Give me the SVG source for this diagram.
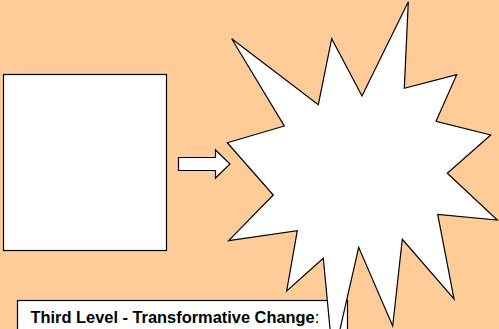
<svg xmlns="http://www.w3.org/2000/svg" width="499" height="329" viewBox="0 0 499 329">
<style>
.shape{fill:#ffffff;stroke:#000000;stroke-width:1.2;stroke-linejoin:miter}
.label{font-family:"Liberation Sans",Arial,sans-serif;font-size:16.4px;font-weight:bold;fill:#000000}
</style>
<rect x="0" y="0" width="499" height="329" fill="#ffcc99"/>
<g id="box-before">
<rect class="shape" x="3.5" y="74.5" width="163" height="176"/>
</g>
<g id="label-box">
<rect class="shape" x="17.5" y="300.5" width="330" height="40"/>
<text class="label" x="30.5" y="322.5">Third Level - Transformative Change<tspan font-weight="normal">:</tspan></text>
</g>
<g id="connectors">
<path class="shape" d="M178.5,157.5 L215.5,157.5 L215.5,150 L230,164 L215.5,178 L215.5,170.5 L178.5,170.5 Z"/>
</g>
<g id="explosion">
<path class="shape" d="M231.7,38.7 L318.3,104.7 L331.7,38.7 L362,96 L408.3,1.7 L404.3,88.3 L456.7,74.7 L436,121.3 L490.7,135 L447.3,173.3 L497.3,220 L437.7,214.3 L454,299 L402.3,239.3 L392.7,326 L358.7,247.3 L333,360 L323.3,258.3 L286.7,291 L297.3,230.7 L228.7,240.7 L273.3,195 L227.3,142.7 L284.3,126 Z"/>
</g>
</svg>
